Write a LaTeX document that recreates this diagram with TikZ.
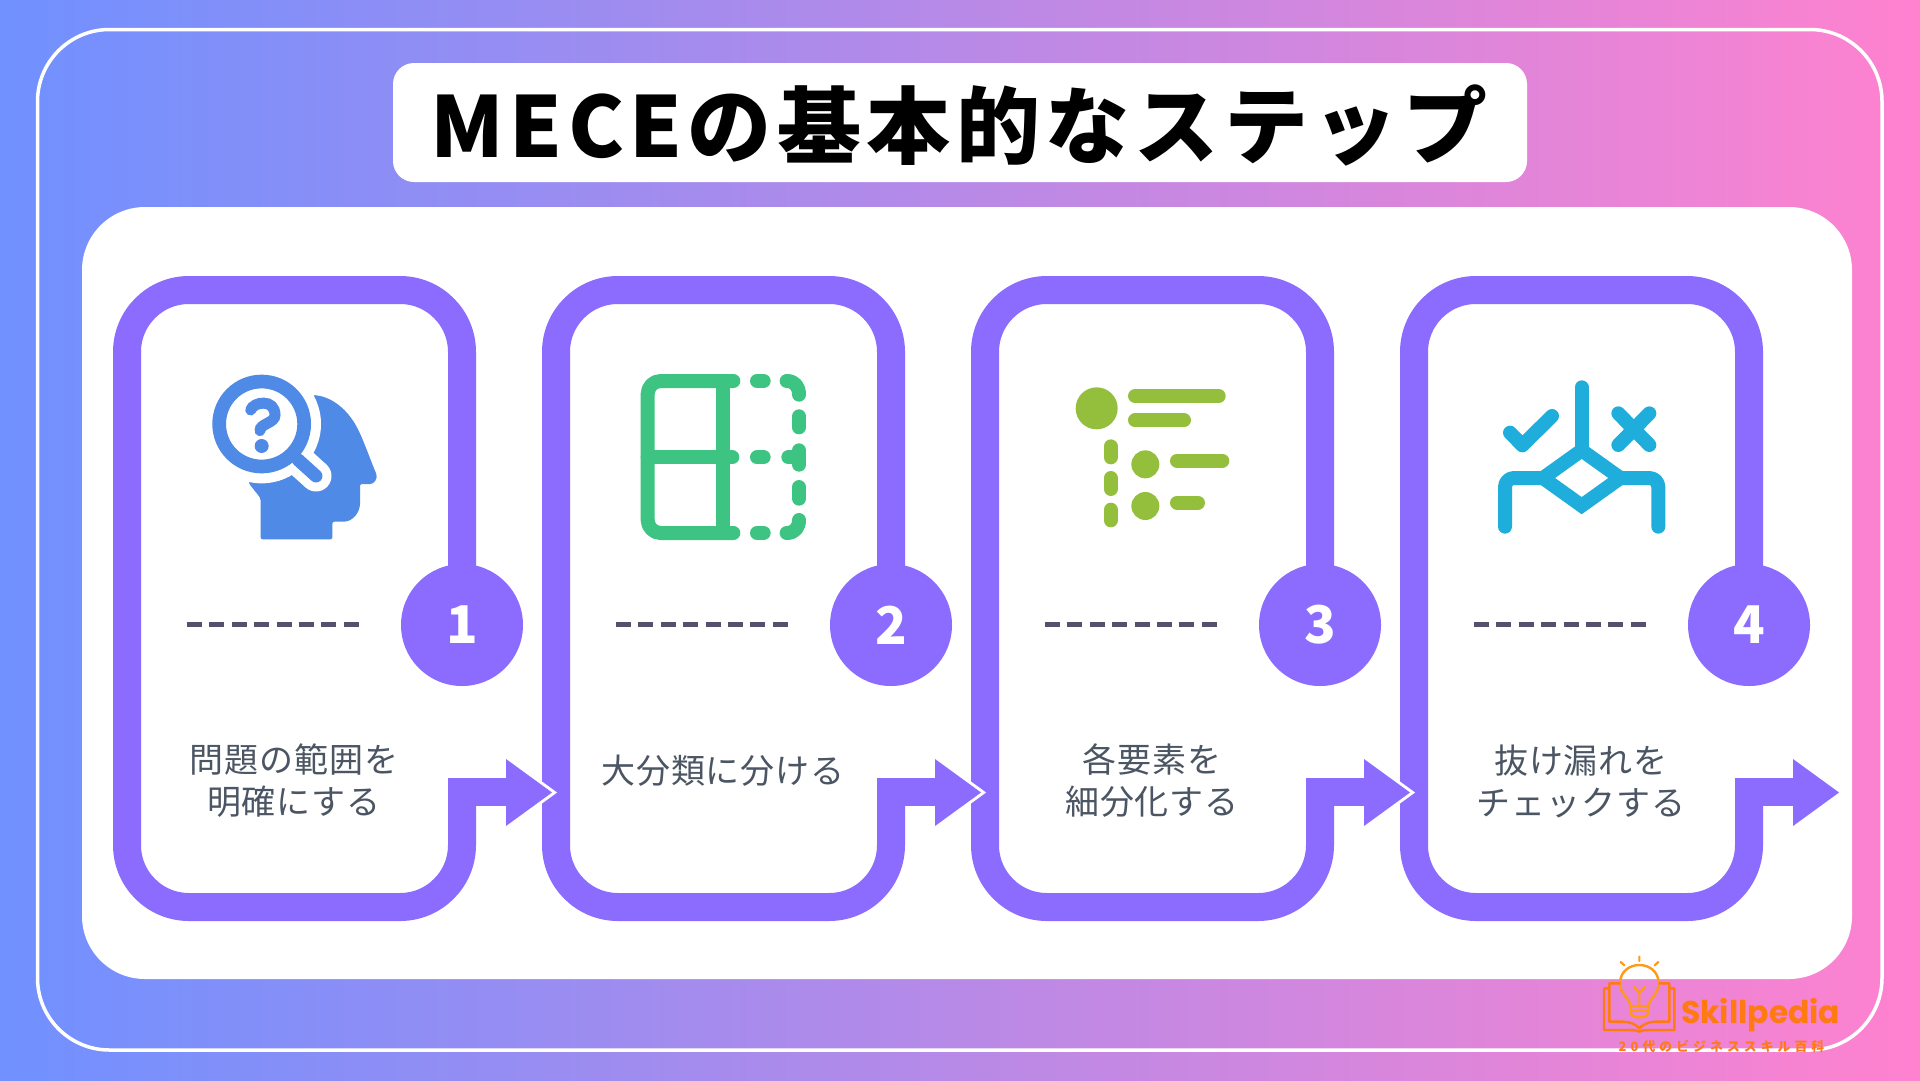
\documentclass[tikz,border=0pt]{standalone}
\usepackage{fontspec}
\setmainfont{Noto Sans CJK JP}
\newfontfamily\jptitle{Noto Sans CJK JP}[LetterSpace=6.4]
\newfontfamily\jplabel{Noto Sans CJK JP}[LetterSpace=2.4]
\newfontfamily\jpsmall{Noto Sans CJK JP}[LetterSpace=32]
\newfontfamily\logofont{Poppins}
\definecolor{bgL}{HTML}{7091FF}
\definecolor{bgR}{HTML}{FF82CF}
\definecolor{purp}{HTML}{8B6CFF}
\definecolor{dashc}{HTML}{55516C}
\definecolor{labelc}{HTML}{4B5563}
\definecolor{iconA}{HTML}{4F8AE6}
\definecolor{iconB}{HTML}{3EC482}
\definecolor{iconC}{HTML}{94BF3C}
\definecolor{iconD}{HTML}{1FAEDC}
\definecolor{logoA}{HTML}{FF9A18}
\definecolor{logoB}{HTML}{FF7A10}
\tikzset{
  x=1pt,y=-1pt,
  cardline/.style={draw=purp,line width=28pt,rounded corners=62pt,line cap=butt},
  badge/.style={circle,fill=purp,text=white,minimum size=122pt,inner sep=0pt,font=\fontsize{52}{52}\selectfont\bfseries},
  dashline/.style={draw=dashc,line width=5pt,dash pattern=on 15pt off 7.4pt},
  steplabel/.style={text=labelc,align=center,inner sep=0pt,font=\jplabel\fontsize{34}{42}\selectfont},
  zoomed/.style 2 args={shift={(#1pt,-#2pt)},x=1pt/3,y=-1pt/3},
  ic/.style={line cap=round,line join=round,line width=14pt},
}
\begin{document}
\begin{tikzpicture}
\useasboundingbox (0,0) rectangle (1920,1080);
\shade[left color=bgL,right color=bgR] (0,0) rectangle (1920,1080);
\draw[white,line width=3.5pt,rounded corners=72pt] (37.5,29.5) rectangle (1882,1050);
\fill[white,rounded corners=63pt] (82,207) rectangle (1852,979);
\node[fill=white,rounded corners=21pt,minimum width=1134pt,minimum height=119pt,inner sep=0pt] (titlebox) at (960,122.5) {};
\node[inner sep=0pt,text=black,font=\jptitle\fontsize{84}{84}\selectfont\bfseries] (titletext) at (959,125) {MECEの基本的なステップ};

% cards
\foreach \i/\dx in {1/0,2/429,3/858,4/1287}{
  \coordinate (start\i) at (462+\dx,625);
  \coordinate (tr\i) at (462+\dx,290);
  \coordinate (tl\i) at (127+\dx,290);
  \coordinate (bl\i) at (127+\dx,907);
  \coordinate (br\i) at (462+\dx,907);
  \coordinate (elbow\i) at (462+\dx,792);
  \draw[cardline] (start\i) -- (tr\i) -- (tl\i) -- (bl\i) -- (br\i) -- (elbow\i);
}
\foreach \i/\dx in {1/0,2/429,3/858,4/1287}{
  \draw[white,line width=6pt,miter limit=10] (506+\dx,759) -- (552+\dx,792.5) -- (506+\dx,826) -- cycle;
}
\foreach \i/\dx in {1/0,2/429,3/858,4/1287}{
  \fill[purp] (448+\dx,778) rectangle (510+\dx,806);
  \fill[purp] (506+\dx,759) -- (552+\dx,792.5) -- (506+\dx,826) -- cycle;
  \node[badge] (badge\i) at (start\i) {\i};
  \coordinate (dashA\i) at (187+\dx,624);
  \coordinate (dashB\i) at (360+\dx,624);
  \draw[dashline] (dashA\i) -- (dashB\i);
}
\node[steplabel] (label1) at (294,781) {問題の範囲を\\明確にする};
\node[steplabel] (label2) at (723,771) {大分類に分ける};
\node[steplabel] (label3) at (1152,781) {各要素を\\細分化する};
\node[steplabel] (label4) at (1581,781) {抜け漏れを\\チェックする};

% icon 1: head and magnifier
\begin{scope}[zoomed={100}{260}]
  \fill[iconA,rounded corners=2pt] (445,668) -- (482,715) -- (482,838) -- (697,838) -- (697,785) -- (725,785)
     .. controls (760,785) and (780,755) .. (780,725) -- (780,672) -- (805,672)
     .. controls (822,672) and (835,655) .. (826,635)
     .. controls (800,570) and (790,540) .. (770,500)
     .. controls (735,440) and (690,410) .. (640,405) -- (485,492) -- cycle;
  \fill[white] (485,492) circle[radius=178];
  \draw[white,line width=31pt,line cap=round] (595,600) -- (648,648);
  \draw[iconA,line width=13pt,line cap=round] (595,600) -- (648,648);
  \draw[iconA,line width=13.7pt] (485,492) circle[radius=127.5];
  \draw[iconA,line width=11pt,line cap=round] (452,450) .. controls (460,425) and (525,415) .. (525,465)
     .. controls (525,490) and (480,490) .. (480,512);
  \fill[iconA] (485,558) circle[radius=21];
\end{scope}

% icon 2: table
\begin{scope}[zoomed={600}{340}]
  \draw[iconB,ic,rounded corners=13pt] (400,123) -- (143,123) -- (143,579) -- (400,579);
  \draw[iconB,ic] (143,352) -- (397,352);
  \draw[iconB,ic] (370,123) -- (370,579);
  \draw[iconB,ic] (471,123) -- (491,123);
  \draw[iconB,ic] (471,352) -- (491,352);
  \draw[iconB,ic] (471,579) -- (491,579);
  \draw[iconB,ic] (560,123) .. controls (585,123) and (597,140) .. (597,164);
  \draw[iconB,ic] (560,579) .. controls (585,579) and (597,562) .. (597,540);
  \draw[iconB,ic] (597,229) -- (597,262);
  \draw[iconB,ic] (597,331) -- (597,374);
  \draw[iconB,ic] (565,352) -- (597,352);
  \draw[iconB,ic] (597,441) -- (597,476);
\end{scope}

% icon 3: list
\begin{scope}[zoomed={1040}{360}]
  \fill[iconC] (170,145) circle[radius=63];
  \fill[iconC] (316,313) circle[radius=42];
  \fill[iconC] (316,438) circle[radius=42];
  \draw[iconC,ic] (285,108) -- (536,108);
  \draw[iconC,ic] (285,181) -- (432,181);
  \draw[iconC,ic] (411,302) -- (547,302);
  \draw[iconC,ic] (411,428) -- (474,428);
  \draw[iconC,ic] (212,259) -- (212,292);
  \draw[iconC,ic] (212,354) -- (212,387);
  \draw[iconC,ic] (212,449) -- (212,481);
\end{scope}

% icon 4: decision
\begin{scope}[zoomed={1470}{360}]
  \draw[iconD,ic] (335,82) -- (335,271);
  \draw[iconD,ic,line cap=butt,line join=miter] (335,271) -- (451,354) -- (335,437) -- (219,354) -- cycle;
  \draw[iconD,ic,rounded corners=9pt] (219,354) -- (105,354) -- (105,500);
  \draw[iconD,ic,rounded corners=9pt] (451,354) -- (565,354) -- (565,500);
  \draw[iconD,ic] (120,218) -- (157,256) -- (246,168);
  \draw[iconD,ic] (445,160) -- (538,255);
  \draw[iconD,ic] (538,160) -- (445,255);
\end{scope}

% logo
\begin{scope}[zoomed={1580}{940}]
  \draw[logoA,line width=2.4pt,line cap=round,line join=round]
    (152,198) .. controls (145,170) and (120,160) .. (120,130)
    .. controls (120,95) and (148,75) .. (178,75)
    .. controls (208,75) and (236,95) .. (236,130)
    .. controls (236,160) and (212,170) .. (205,198) -- cycle;
  \draw[logoA,line width=2.4pt,line cap=round,line join=round] (152,198) -- (152,215) .. controls (152,228) and (165,232) .. (178,232) .. controls (192,232) and (205,228) .. (205,215) -- (205,198);
  \draw[logoA,line width=2.2pt] (154,214) -- (203,214);
  \draw[logoA,line width=2.2pt,line cap=round,line join=round] (178,198) -- (178,160) -- (162,140) (178,160) -- (194,140);
  \draw[logoA,line width=2.2pt,line cap=round] (178,50) -- (178,63) (122,66) -- (133,76) (235,66) -- (224,76);
  \draw[logoB,line width=2.4pt,line join=round] (120,130) -- (88,130) -- (88,245) -- (130,245) .. controls (150,245) and (170,255) .. (178,265) .. controls (186,255) and (206,245) .. (226,245) -- (268,245) -- (268,130) -- (236,130);
  \draw[logoB,line width=2.4pt,line join=round] (88,145) -- (72,145) -- (72,270) -- (150,270) .. controls (165,270) and (172,272) .. (178,275) .. controls (184,272) and (191,270) .. (206,270) -- (283,270) -- (283,145) -- (268,145);
\end{scope}
\node[anchor=base west,inner sep=0pt,text=logoB,font=\logofont\fontsize{31.4}{31.4}\selectfont\bfseries] (logoname) at (1681,1023.5) {Skillpedia};
\node[inner sep=0pt,text=logoB,font=\jpsmall\fontsize{12.8}{12.8}\selectfont\bfseries] (logotag) at (1721.5,1046.5) {20代のビジネススキル百科};
\end{tikzpicture}
\end{document}
